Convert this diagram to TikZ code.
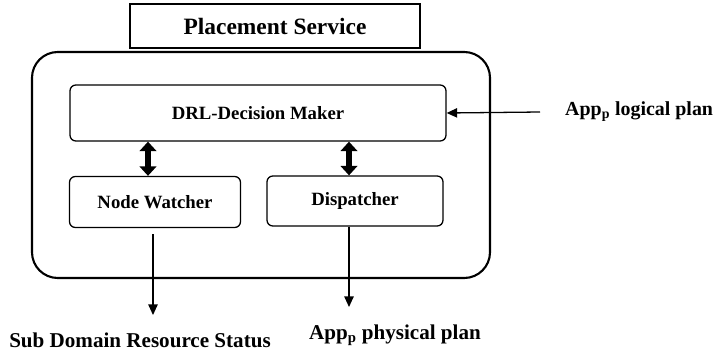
\documentclass[tikz,border=0pt]{standalone}
\usepackage{fontspec}
\setmainfont{Liberation Serif}
\usetikzlibrary{arrows.meta,positioning,calc}
\tikzstyle{box}=[draw,line width=1.1pt,rounded corners=5pt,font=\bfseries\fontsize{16}{18}\selectfont,inner sep=0pt]
\tikzstyle{lbl}=[font=\bfseries\fontsize{18}{20}\selectfont,inner sep=0pt]
\tikzstyle{flow}=[->,>={Triangle[width=8pt,length=9pt]},line width=1.1pt]
\tikzstyle{dbl}=[{Triangle[width=14pt,length=8pt]}-{Triangle[width=14pt,length=8pt]},line width=4.5pt]

\begin{document}
\begin{tikzpicture}[x=0.03cm,y=-0.03cm]
		\useasboundingbox (0,0) rectangle (721,357);

		\node(outer)[draw,line width=1.8pt,rounded corners=22pt,minimum width=458*0.03cm,minimum height=226*0.03cm] at (261,165){};
		\node(place)[box,rounded corners=0pt,fill=white,line width=0.9pt,font=\bfseries\fontsize{20}{22}\selectfont,minimum width=290*0.03cm,minimum height=44*0.03cm] at (275,26){Placement Service};
		\node(drl)[box,minimum width=376*0.03cm,minimum height=56*0.03cm] at (258,113){DRL-Decision Maker};
		\node(nw)[box,minimum width=171*0.03cm,minimum height=51*0.03cm] at (155,202){Node Watcher};
		\node(disp)[box,minimum width=176*0.03cm,minimum height=50*0.03cm] at (355,201){Dispatcher};

		% free ends
		\coordinate(lp) at (540,112);
		\coordinate(nwx) at (148,0);
		\coordinate(dpx) at (349,0);
		\coordinate(sd) at (153,315);
		\coordinate(pp) at (349,307);

		\node(lplan)[lbl,font=\bfseries\fontsize{17}{19}\selectfont,anchor=west] at (565,112){App\textsubscript{p} logical plan};
		\node(status)[lbl] at (140,340){Sub Domain Resource Status};
		\node(pplan)[lbl] at (395,335){App\textsubscript{p} physical plan};

		\draw[flow] (lp) -- (drl.east);
		\draw[dbl] (drl.south -| nwx) -- (nw.north -| nwx);
		\draw[dbl] (drl.south -| dpx) -- (disp.north -| dpx);
		\draw[flow,shorten <=5pt] (nw.south -| sd) -- (sd);
		\draw[flow] (disp.south -| pp) -- (pp);

\end{tikzpicture}
\end{document}
